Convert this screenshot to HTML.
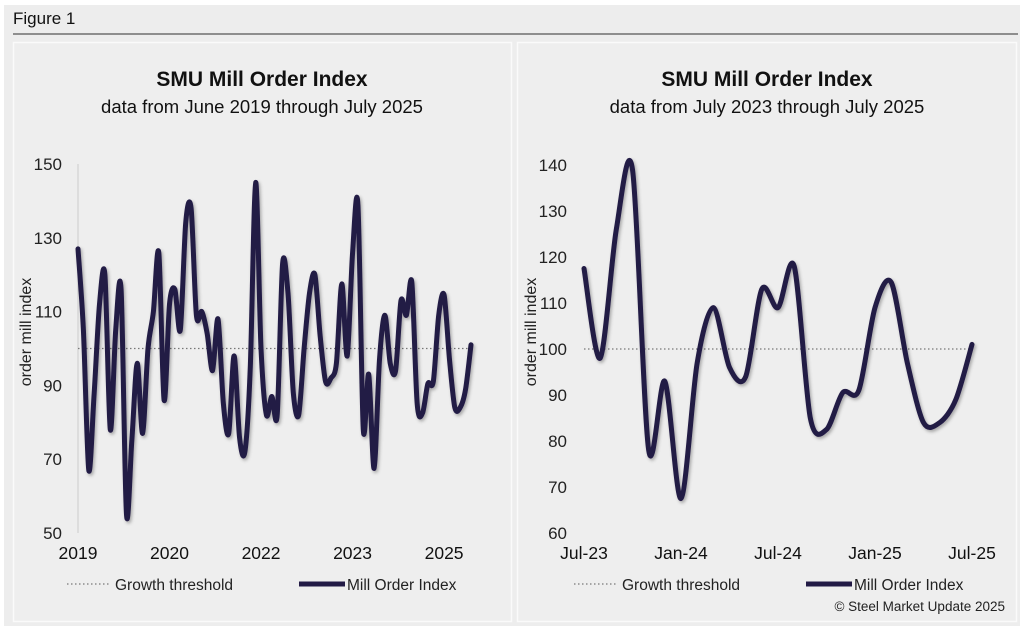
<!DOCTYPE html>
<html><head><meta charset="utf-8">
<style>
body{margin:0;background:#fff;width:1024px;height:630px;overflow:hidden;font-family:"Liberation Sans",sans-serif}
svg{display:block}
</style></head>
<body>
<svg id="fig" width="1024" height="630" xmlns="http://www.w3.org/2000/svg">
<defs>
<filter id="sh" x="-5%" y="-5%" width="110%" height="115%"><feDropShadow dx="1.5" dy="2" stdDeviation="1.5" flood-color="#000" flood-opacity="0.3"/></filter>
</defs>
<rect x="4" y="5" width="1016" height="621" fill="#ededed"/>
<text x="13" y="24" font-size="17" fill="#111">Figure 1</text>
<line x1="13" y1="34" x2="1018" y2="34" stroke="#555" stroke-width="1.2"/>
<rect x="13.5" y="42.5" width="498" height="579" fill="#eeeeee" stroke="#fafafa" stroke-width="1.5"/>
<rect x="517.5" y="42.5" width="499" height="579" fill="#eeeeee" stroke="#fafafa" stroke-width="1.5"/>
<g id="left"></g>
<g id="right"></g>
<text x="1005" y="611" font-size="13.5" text-anchor="end" fill="#222">© Steel Market Update 2025</text>
</svg>
<script>
const rightValues = [117.5,98,126,139,78,93,67.5,97,109,96,94,113,109,118,85,82.5,90.5,91,109,114.5,97,84,84,89,101];
const rightXLabels = ["Jul-23","Jan-24","Jul-24","Jan-25","Jul-25"];
const rightXLabelIdx = [0,6,12,18,24];
const rightYTicks = [60,70,80,90,100,110,120,130,140];
const leftEarly = [127,105,67,88,112,120,78,105,116,55,75,96,77,100,110,126,86,112,116,105,134,138,109,110,104,94,108,85,77,98,76,72,95,145,100,82,87,82,123,115,88,82,100,115,120,103,91,92,96];
const leftValues = leftEarly.concat(rightValues);
const leftXLabels = ["2019","2020","2022","2023","2025"];
const leftXLabelIdx = [0,17,34,51,68];
const leftYTicks = [50,70,90,110,130,150];
const threshold = 100;

const NS="http://www.w3.org/2000/svg";
function mk(parent,tag,attrs,text){const e=document.createElementNS(NS,tag);for(const k in attrs)e.setAttribute(k,attrs[k]);if(text!==undefined)e.textContent=text;parent.appendChild(e);return e;}
function smooth(pts){let d="M"+pts[0][0]+","+pts[0][1];for(let i=0;i<pts.length-1;i++){const p0=pts[Math.max(0,i-1)],p1=pts[i],p2=pts[i+1],p3=pts[Math.min(pts.length-1,i+2)];const t=0.15;const c1=[p1[0]+(p2[0]-p0[0])*t,p1[1]+(p2[1]-p0[1])*t];const c2=[p2[0]-(p3[0]-p1[0])*t,p2[1]-(p3[1]-p1[1])*t];d+=" C"+c1[0].toFixed(1)+","+c1[1].toFixed(1)+" "+c2[0].toFixed(1)+","+c2[1].toFixed(1)+" "+p2[0].toFixed(1)+","+p2[1].toFixed(1);}return d;}

function chart(g,cfg){
  const cx=cfg.cx;
  const t=mk(g,"text",{x:cx,y:86,"font-size":21,"font-weight":"bold","text-anchor":"middle",fill:"#111"},cfg.title);
  
  
  const s=mk(g,"text",{x:cx,y:113,"font-size":18.5,"text-anchor":"middle",fill:"#111"},cfg.sub);
  
  
  const y=v=>cfg.y0+(v-cfg.ymin)/(cfg.ymax-cfg.ymin)*(cfg.y1-cfg.y0);
  const x=i=>cfg.x0+i*(cfg.x1-cfg.x0)/(cfg.values.length-1);
  if(cfg.axisLine){const a=mk(g,"line",{x1:cfg.x0,y1:y(cfg.ymax),x2:cfg.x0,y2:y(cfg.ymin),stroke:"#ccc","stroke-width":1});}
  cfg.yticks.forEach(v=>{const e=mk(g,"text",{x:cfg.tickX,y:y(v)+6,"font-size":17,"text-anchor":"end",fill:"#222"},v);
    
    });
  cfg.xIdx.forEach((i,k)=>{const e=mk(g,"text",{x:x(i),y:559,"font-size":17.5,"text-anchor":"middle",fill:"#111"},cfg.xLabels[k]);
    
    });
  const yl=mk(g,"text",{transform:"translate("+(cfg.ylX)+",332) rotate(-90)","font-size":16,"text-anchor":"middle",fill:"#222"},"order mill index");
  
  
  const th=mk(g,"line",{x1:cfg.x0,y1:y(threshold),x2:cfg.x1,y2:y(threshold),stroke:"#777","stroke-width":1.3,"stroke-dasharray":"1.5,2.5"});
  
  
  const pts=cfg.values.map((v,i)=>[x(i),y(v)]);
  const p=mk(g,"path",{d:smooth(pts),fill:"none",stroke:"#221a45","stroke-width":5,"stroke-linejoin":"round","stroke-linecap":"round",filter:"url(#sh)"});
  
  
  const lx=cfg.legX;
  const l1=mk(g,"line",{x1:lx,y1:584,x2:lx+44,y2:584,stroke:"#777","stroke-width":1.3,"stroke-dasharray":"1.5,2.5"});
  
  
  const lt1=mk(g,"text",{x:lx+48,y:590,"font-size":15.5,fill:"#222"},"Growth threshold");
  
  
  const l2=mk(g,"line",{x1:lx+232,y1:584,x2:lx+278,y2:584,stroke:"#221a45","stroke-width":5});
  
  
  const lt2=mk(g,"text",{x:lx+280,y:590,"font-size":15.5,fill:"#222"},"Mill Order Index");
  
  
}
chart(document.getElementById("left"),{cx:262,title:"SMU Mill Order Index",sub:"data from June 2019 through July 2025",values:leftValues,x0:78,x1:471,ymin:50,ymax:150,y0:533,y1:164,yticks:leftYTicks,tickX:62,xLabels:leftXLabels,xIdx:leftXLabelIdx,ylX:31,legX:67,axisLine:true});
chart(document.getElementById("right"),{cx:767,title:"SMU Mill Order Index",sub:"data from July 2023 through July 2025",values:rightValues,x0:584,x1:972,ymin:60,ymax:140,y0:533,y1:165,yticks:rightYTicks,tickX:567,xLabels:rightXLabels,xIdx:rightXLabelIdx,ylX:536,legX:574,axisLine:false});
</script>
</body></html>
